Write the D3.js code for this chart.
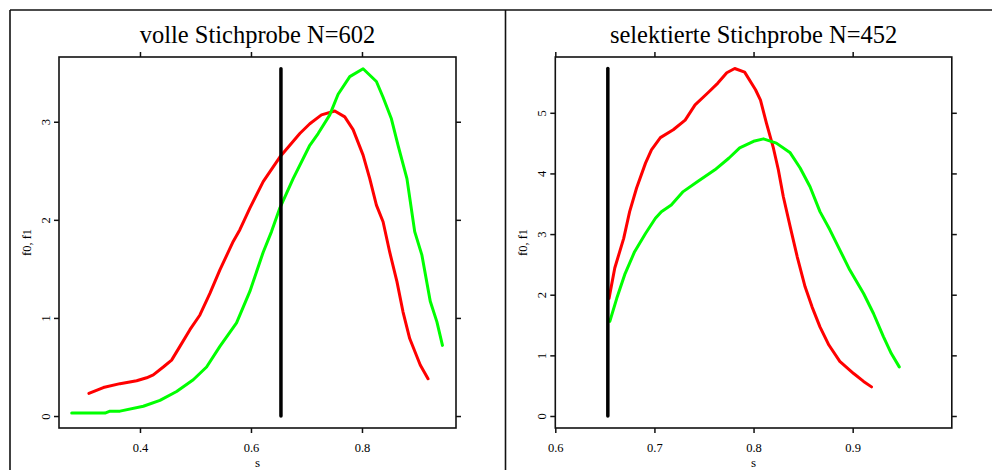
<!DOCTYPE html>
<html>
<head>
<meta charset="utf-8">
<script src="https://cdn.jsdelivr.net/npm/d3@7"></script>
<style>
  html, body { margin: 0; padding: 0; background: #fff; }
  svg { display: block; }
  text { font-family: "Liberation Serif", "Times New Roman", serif; fill: #000; }
</style>
</head>
<body>
<svg id="chart" width="992" height="470"></svg>
<script>
// ---------- data ----------
const titles = ["volle Stichprobe N=602", "selektierte Stichprobe N=452"];
const xLabel = "s";
const yLabel = "f0, f1";

// left panel: full sample
const fullRedS   = [0.308,0.334,0.364,0.394,0.412,0.424,0.442,0.457,0.472,0.490,0.508,0.526,0.544,0.568,0.580,0.598,0.622,0.652,0.688,0.706,0.727,0.751,0.769,0.784,0.802,0.814,0.826,0.838,0.850,0.863,0.874,0.886,0.905,0.919];
const fullRedF   = [0.23,0.29,0.33,0.36,0.39,0.42,0.50,0.57,0.71,0.88,1.03,1.25,1.49,1.78,1.90,2.12,2.39,2.64,2.88,2.98,3.07,3.11,3.05,2.92,2.66,2.42,2.15,1.98,1.67,1.37,1.06,0.79,0.52,0.38];
const fullGreenS = [0.277,0.337,0.346,0.364,0.406,0.436,0.466,0.496,0.520,0.544,0.574,0.598,0.622,0.637,0.652,0.676,0.706,0.721,0.742,0.757,0.778,0.802,0.826,0.838,0.853,0.865,0.881,0.895,0.908,0.923,0.935,0.945];
const fullGreenF = [0.03,0.03,0.05,0.05,0.10,0.16,0.25,0.37,0.50,0.71,0.95,1.27,1.67,1.88,2.12,2.42,2.76,2.88,3.07,3.28,3.46,3.54,3.41,3.25,3.03,2.76,2.42,1.88,1.64,1.17,0.96,0.72];
const fullCut = { s: 0.654, top: 3.54 };

// right panel: selected sample
const selRedS   = [0.6542,0.660,0.669,0.675,0.682,0.691,0.697,0.706,0.719,0.731,0.741,0.754,0.764,0.773,0.781,0.791,0.802,0.807,0.813,0.820,0.825,0.830,0.837,0.844,0.852,0.859,0.867,0.876,0.887,0.901,0.911,0.919];
const selRedF   = [1.94,2.44,2.93,3.37,3.76,4.17,4.39,4.59,4.72,4.88,5.13,5.33,5.49,5.66,5.73,5.67,5.38,5.21,4.83,4.42,4.06,3.62,3.12,2.63,2.13,1.80,1.47,1.17,0.90,0.70,0.57,0.48];
const selGreenS = [0.655,0.662,0.670,0.680,0.691,0.701,0.707,0.717,0.729,0.744,0.761,0.775,0.786,0.800,0.810,0.823,0.837,0.847,0.857,0.867,0.877,0.887,0.897,0.911,0.921,0.931,0.939,0.947];
const selGreenF = [1.56,1.94,2.33,2.71,3.01,3.26,3.37,3.48,3.70,3.87,4.06,4.25,4.42,4.53,4.57,4.50,4.34,4.09,3.78,3.37,3.07,2.74,2.41,2.02,1.69,1.31,1.03,0.81];
const selCut = { s: 0.653, top: 5.73 };

// tick labels
const fullXTicks = [0.4, 0.6, 0.8];
const fullYTicks = [0, 1, 2, 3];
const selXTicks  = [0.6, 0.7, 0.8, 0.9];
const selYTicks  = [0, 1, 2, 3, 4, 5];

// ---------- layout ----------
const svg = d3.select("#chart");
const W = 992, H = 470;

// outer frames
const frame = svg.append("g").attr("stroke", "#111").attr("stroke-width", 1.6).attr("fill", "none");
frame.append("line").attr("x1", 10).attr("x2", W).attr("y1", 10).attr("y2", 10);
frame.append("line").attr("x1", 10).attr("x2", 10).attr("y1", 10).attr("y2", H);
frame.append("line").attr("x1", 505.5).attr("x2", 505.5).attr("y1", 10).attr("y2", H);

const zip = (a, b) => a.map((v, i) => [v, b[i]]);

function panel(cfg) {
  const x = d3.scaleLinear().domain(cfg.xDomain).range([cfg.left, cfg.right]);
  const y = d3.scaleLinear().domain(cfg.yDomain).range([cfg.bottom, cfg.top]);
  const g = svg.append("g");

  // title
  g.append("text")
    .attr("x", (cfg.left + cfg.right) / 2).attr("y", 43)
    .attr("text-anchor", "middle").attr("font-size", 24.5)
    .text(cfg.title);

  // axes
  const axB = g.append("g").attr("transform", `translate(0,${cfg.bottom})`)
    .call(d3.axisBottom(x).tickValues(cfg.xTicks).tickSize(5).tickPadding(9).tickFormat(d3.format(".1f")));
  const axT = g.append("g").attr("transform", `translate(0,${cfg.top})`)
    .call(d3.axisTop(x).tickValues(cfg.xTicks).tickSize(5).tickFormat(""));
  const axL = g.append("g").attr("transform", `translate(${cfg.left},0)`)
    .call(d3.axisLeft(y).tickValues(cfg.yTicks).tickSize(5).tickFormat(d3.format("d")));
  const axR = g.append("g").attr("transform", `translate(${cfg.right},0)`)
    .call(d3.axisRight(y).tickValues(cfg.yTicks).tickSize(5).tickFormat(""));

  [axB, axT, axL, axR].forEach(a => {
    a.select(".domain").remove();
    a.selectAll(".tick line").attr("stroke", "#111").attr("stroke-width", 1.5);
    a.selectAll("text").attr("font-family", "Liberation Serif").attr("font-size", 12.5).attr("fill", "#222");
  });
  axB.selectAll(".tick text").attr("dy", null).attr("y", 24);
  axL.selectAll(".tick text")
    .attr("x", null).attr("dy", null)
    .attr("text-anchor", "middle")
    .attr("transform", "translate(-9,0) rotate(-90)");

  // axis titles
  g.append("text")
    .attr("x", (cfg.left + cfg.right) / 2).attr("y", 466.5)
    .attr("text-anchor", "middle").attr("font-size", 13).attr("fill", "#222")
    .text(xLabel);
  g.append("text")
    .attr("transform", `translate(${cfg.left - 28},${(cfg.top + cfg.bottom) / 2}) rotate(-90)`)
    .attr("text-anchor", "middle").attr("font-size", 12.5).attr("fill", "#222")
    .text(yLabel);

  // box
  g.append("rect")
    .attr("x", cfg.left).attr("y", cfg.top)
    .attr("width", cfg.right - cfg.left).attr("height", cfg.bottom - cfg.top)
    .attr("fill", "none").attr("stroke", "#111").attr("stroke-width", 1.6);

  const line = d3.line().x(d => x(d[0])).y(d => y(d[1]));

  g.append("path").datum(zip(cfg.redS, cfg.redF))
    .attr("d", line).attr("fill", "none").attr("stroke", "#ff0000")
    .attr("stroke-width", 3).attr("stroke-linejoin", "round").attr("stroke-linecap", "round");
  g.append("path").datum(zip(cfg.greenS, cfg.greenF))
    .attr("d", line).attr("fill", "none").attr("stroke", "#00ff00")
    .attr("stroke-width", 3).attr("stroke-linejoin", "round").attr("stroke-linecap", "round");

  g.append("path").datum([[cfg.cut.s, 0], [cfg.cut.s, cfg.cut.top]])
    .attr("d", line).attr("fill", "none").attr("stroke", "#000")
    .attr("stroke-width", 3.5).attr("stroke-linecap", "round");
}

panel({
  title: titles[0], left: 59, right: 456, top: 57, bottom: 428,
  xDomain: [0.2541, 0.9694], yDomain: [-0.122, 3.66],
  xTicks: fullXTicks, yTicks: fullYTicks,
  redS: fullRedS, redF: fullRedF, greenS: fullGreenS, greenF: fullGreenF, cut: fullCut
});
panel({
  title: titles[1], left: 555.3, right: 951.8, top: 57, bottom: 428,
  xDomain: [0.6, 1.0], yDomain: [-0.198, 5.92],
  xTicks: selXTicks, yTicks: selYTicks,
  redS: selRedS, redF: selRedF, greenS: selGreenS, greenF: selGreenF, cut: selCut
});
</script>
</body>
</html>
